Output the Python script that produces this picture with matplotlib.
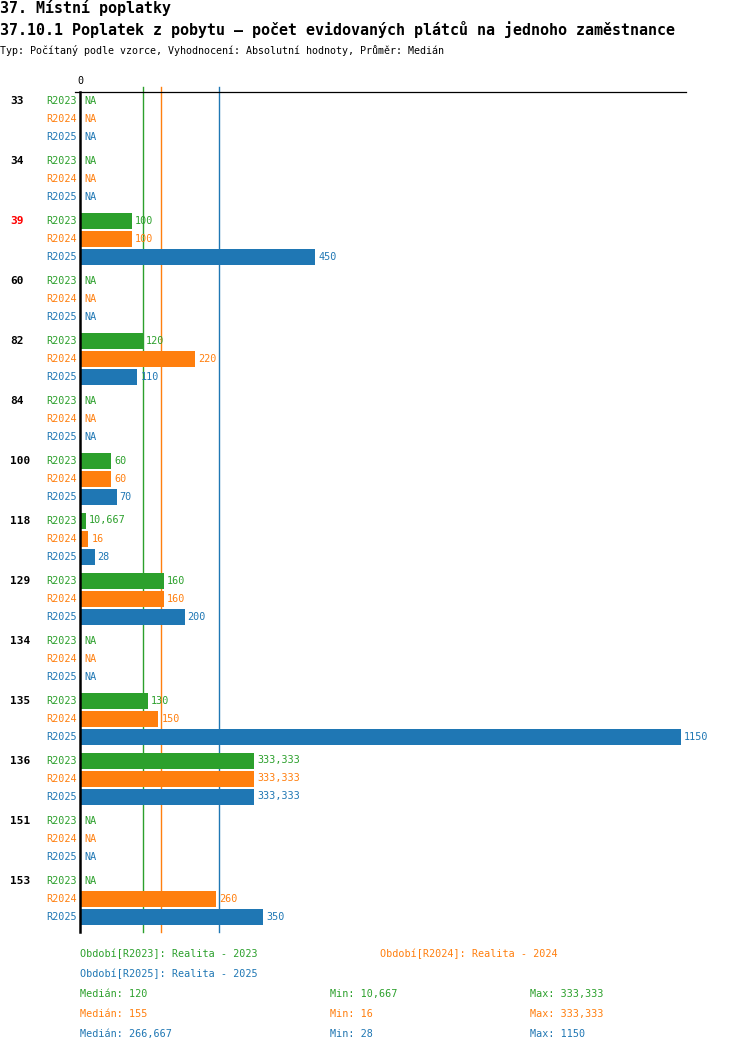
import numpy as np
import matplotlib
matplotlib.use("Agg")
import matplotlib.pyplot as plt
from matplotlib.transforms import blended_transform_factory

# data
groups = ['33', '34', '39', '60', '82', '84', '100', '118', '129', '134', '135', '136', '151', '153']
highlight = '39'
series = ['R2023', 'R2024', 'R2025']
series_names = ['Realita - 2023', 'Realita - 2024', 'Realita - 2025']
nan = np.nan
r2023 = [nan, nan, 100, nan, 120, nan, 60, 10.667, 160, nan, 130, 333.333, nan, nan]
r2024 = [nan, nan, 100, nan, 220, nan, 60, 16, 160, nan, 150, 333.333, nan, 260]
r2025 = [nan, nan, 450, nan, 110, nan, 70, 28, 200, nan, 1150, 333.333, nan, 350]
values = [r2023, r2024, r2025]
colors = ['#2ca02c', '#ff7f0e', '#1f77b4']

title1 = "37. Místní poplatky"
title2 = "37.10.1 Poplatek z pobytu – počet evidovaných plátců na jednoho zaměstnance"
subtitle = "Typ: Počítaný podle vzorce, Vyhodnocení: Absolutní hodnoty, Průměr: Medián"


def fmt(v):
    if float(v).is_integer():
        return str(int(v))
    return "{:.3f}".format(v).rstrip('0').rstrip('.').replace('.', ',')


plt.rcParams['font.family'] = ['DejaVu Sans Mono', 'DejaVu Sans']

W, H = 750, 1052
fig = plt.figure(figsize=(W / 100, H / 100), dpi=100)

# axes placement in pixels
ax_l, ax_r, ax_t, ax_b = 80, 686, 92, 932
ax = fig.add_axes([ax_l / W, 1 - ax_b / H, (ax_r - ax_l) / W, (ax_b - ax_t) / H])
xmax = max(np.nanmax(v) for v in values) * (ax_r - ax_l) / 601.0
px = xmax / (ax_r - ax_l)  # data units per pixel
ax.set_xlim(0, xmax)
ax.set_ylim(ax_b, ax_t)
ax.axis('off')

first, group_step, bar_step, bar_h = 100.5, 60, 18, 16
fs = 7.3

medians = [np.nanmedian(v) for v in values]
for m, c in zip(medians, colors):
    ax.plot([m, m], [ax_t - 5, ax_b], color=c, lw=1.0, clip_on=False, zorder=1)

grp_tr = blended_transform_factory(fig.transFigure, ax.transData)
for g, name in enumerate(groups):
    y0 = first + g * group_step
    fig.text(10 / W, y0, name, transform=grp_tr, fontsize=8, fontweight='bold',
             color='red' if name == highlight else 'black', va='center', ha='left')
    for k in range(3):
        y = y0 + k * bar_step
        v = values[k][g]
        c = colors[k]
        ax.text(-3 * px, y, series[k], color=c, fontsize=fs, ha='right', va='center', clip_on=False)
        if np.isnan(v):
            ax.text(4 * px, y, 'NA', color=c, fontsize=fs, ha='left', va='center')
        else:
            ax.barh(y, v, height=bar_h, left=0, color=c, zorder=2)
            ax.text(v + 3 * px, y, fmt(v), color=c, fontsize=fs, ha='left', va='center', zorder=4)

# axis lines
ax.plot([0, 0], [ax_t, ax_b], color='black', lw=1.8, clip_on=False, zorder=3)
ax.plot([-5 * px, xmax], [ax_t, ax_t], color='black', lw=0.9, clip_on=False, zorder=3)
ax.text(0, ax_t - 11, '0', fontsize=fs, ha='center', va='center')

# titles
fig.text(0, 1 - 8 / H, title1, fontsize=10.8, fontweight='bold', va='center', ha='left')
fig.text(0, 1 - 30 / H, title2, fontsize=10.8, fontweight='bold', va='center', ha='left')
fig.text(0, 1 - 50 / H, subtitle, fontsize=7.2, va='center', ha='left')

# legend
leg_pos = [(80, 954), (380, 954), (80, 974)]
for (lx, ly), s, n, c in zip(leg_pos, series, series_names, colors):
    fig.text(lx / W, 1 - ly / H, "Období[{}]: {}".format(s, n), color=c, fontsize=fs, va='center')

for k, c in enumerate(colors):
    ly = 1 - (994 + k * 20) / H
    v = np.array(values[k])
    fig.text(80 / W, ly, "Medián: " + fmt(round(np.nanmedian(v), 3)), color=c, fontsize=fs, va='center')
    fig.text(330 / W, ly, "Min: " + fmt(np.nanmin(v)), color=c, fontsize=fs, va='center')
    fig.text(530 / W, ly, "Max: " + fmt(np.nanmax(v)), color=c, fontsize=fs, va='center')

fig.savefig('out.png', dpi=100)
